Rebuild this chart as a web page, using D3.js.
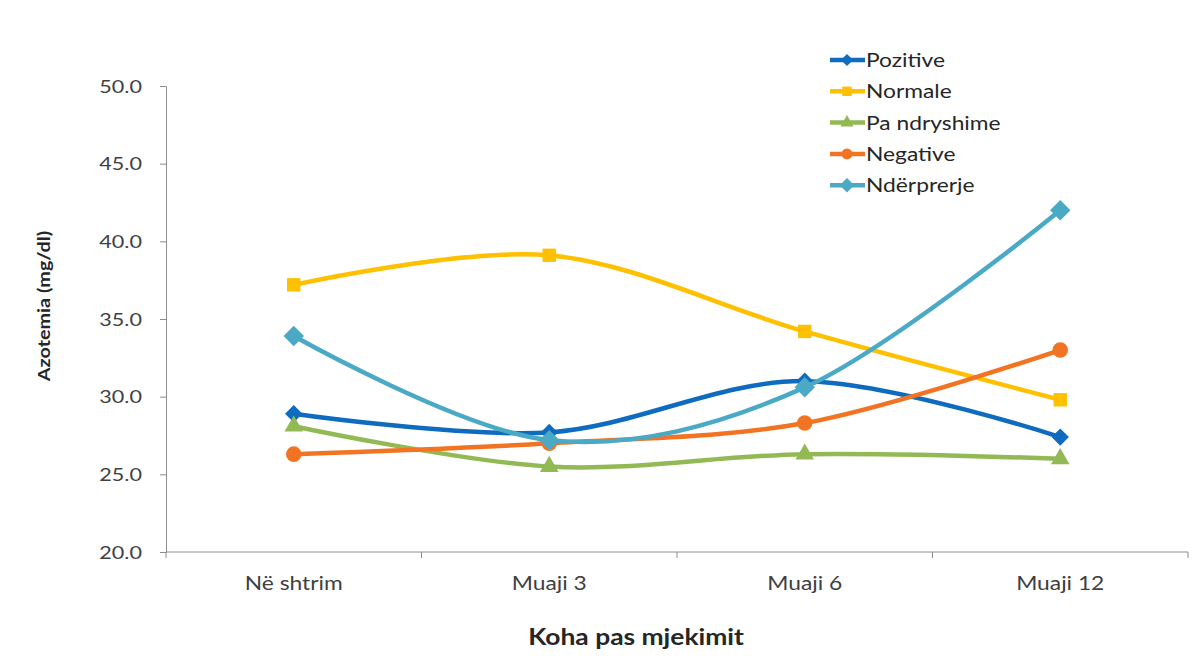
<!DOCTYPE html>
<html>
<head>
<meta charset="utf-8">
<script src="https://cdn.jsdelivr.net/npm/d3@7"></script>
<style>
  html, body { margin: 0; padding: 0; background: #fff; }
  svg { display: block; font-family: Lato, "Open Sans", sans-serif; }
</style>
</head>
<body>
<svg id="chart" width="1197" height="668"></svg>
<script>
// Time points after treatment
const categories = ["Në shtrim", "Muaji 3", "Muaji 6", "Muaji 12"];

// Mean azotemia (mg/dl) per group
const pozitive    = [28.9, 27.7, 31.0, 27.4];
const normale     = [37.2, 39.1, 34.2, 29.8];
const paNdryshime = [28.1, 25.5, 26.3, 26.0];
const negative    = [26.3, 27.0, 28.3, 33.0];
const nderprerje  = [33.9, 27.2, 30.6, 42.0];

const seriesNames = ["Pozitive", "Normale", "Pa ndryshime", "Negative", "Ndërprerje"];
const yTicks = [20, 25, 30, 35, 40, 45, 50];

const seriesValues = [pozitive, normale, paNdryshime, negative, nderprerje];
const colors  = ["#0E6BBE", "#FFC000", "#93B955", "#F27422", "#4AAAC5"];
// marker kinds: diamond drawn as a square turned 45 degrees
const markers = ["diamond", "square", "triangle", "circle", "diamond"];
const markerSizes = [150, 180, 150, 190, 210];

const series = seriesNames.map((name, i) => ({
  name, color: colors[i], marker: markers[i], size: markerSizes[i],
  values: seriesValues[i].map((v, j) => ({ cat: categories[j], v }))
}));

function markerPath(kind, size) {
  const t = kind === "circle" ? d3.symbolCircle
          : kind === "triangle" ? d3.symbolTriangle
          : d3.symbolSquare;
  return d3.symbol().type(t).size(size)();
}
const markerRot = kind => kind === "diamond" ? " rotate(45)" : "";

const svg = d3.select("#chart");
const margin = { left: 166, right: 9, top: 86, bottom: 116 };
const W = 1197, H = 668;
const SX = 1.2; // horizontal stretch of the lettering

const x = d3.scaleBand().domain(categories).range([margin.left, W - margin.right]);
const y = d3.scaleLinear().domain([20, 50]).range([H - margin.bottom, margin.top]);

const axisColor = "#8c8c8c";
const textColor = "#404040";

// Y axis (line + ticks from d3, labels placed alongside)
const yAxis = svg.append("g")
  .attr("transform", `translate(${margin.left},0)`)
  .call(d3.axisLeft(y).tickValues(yTicks).tickSize(6).tickFormat(""));
yAxis.select(".domain").attr("stroke", axisColor).attr("stroke-width", 1);
yAxis.selectAll(".tick line").attr("stroke", axisColor);

svg.append("g").selectAll("text").data(yTicks).join("text")
  .attr("transform", d => `translate(142,${y(d) + 6.5}) scale(${SX},1)`)
  .attr("text-anchor", "end")
  .attr("fill", textColor)
  .style("font-size", "18px")
  .text(d3.format(".1f"));

// X axis with tick marks between categories
const xAxisG = svg.append("g").attr("transform", `translate(0,${y(20)})`);
xAxisG.append("line")
  .attr("x1", margin.left).attr("x2", W - margin.right)
  .attr("stroke", axisColor).attr("stroke-width", 1);
const boundaries = categories.map(c => x(c)).concat([x(categories[categories.length - 1]) + x.bandwidth()]);
xAxisG.selectAll("line.tick").data(boundaries).join("line")
  .attr("class", "tick")
  .attr("x1", d => d).attr("x2", d => d)
  .attr("y1", 0).attr("y2", 6)
  .attr("stroke", axisColor);
xAxisG.selectAll("text").data(categories).join("text")
  .attr("transform", d => `translate(${x(d) + x.bandwidth() / 2},38) scale(${SX},1)`)
  .attr("text-anchor", "middle")
  .attr("fill", textColor)
  .style("font-size", "19px")
  .text(d => d);

// Axis titles
svg.append("text")
  .attr("transform", `translate(636,645) scale(${SX},1)`)
  .attr("text-anchor", "middle")
  .attr("fill", "#262626")
  .style("font-size", "22px").style("font-weight", "bold")
  .text("Koha pas mjekimit");

svg.append("text")
  .attr("transform", `translate(50,306) rotate(-90) scale(${SX},1)`)
  .attr("text-anchor", "middle")
  .attr("fill", "#262626")
  .style("font-size", "16.5px").style("font-weight", "bold")
  .text("Azotemia (mg/dl)");

// Smoothed lines
const line = d3.line()
  .x(d => x(d.cat) + x.bandwidth() / 2)
  .y(d => y(d.v))
  .curve(d3.curveCatmullRom.alpha(0));

const g = svg.append("g");
series.forEach(s => {
  g.append("path")
    .datum(s.values)
    .attr("d", line)
    .attr("fill", "none")
    .attr("stroke", s.color)
    .attr("stroke-width", 4.5)
    .attr("stroke-linejoin", "round")
    .attr("stroke-linecap", "round");
  g.selectAll(null).data(s.values).join("path")
    .attr("transform", d => `translate(${x(d.cat) + x.bandwidth() / 2},${y(d.v)})` + markerRot(s.marker))
    .attr("d", markerPath(s.marker, s.size))
    .attr("fill", s.color);
});

// Legend
const legend = svg.append("g");
series.forEach((s, i) => {
  const ly = 60 + i * 31.3;
  const row = legend.append("g").attr("transform", `translate(830,${ly})`);
  row.append("line").attr("x1", 0).attr("x2", 35).attr("y1", 0).attr("y2", 0)
    .attr("stroke", s.color).attr("stroke-width", 4.5);
  row.append("path").attr("transform", "translate(17,0)" + markerRot(s.marker))
    .attr("d", markerPath(s.marker, s.size * 0.5))
    .attr("fill", s.color);
  row.append("text")
    .attr("transform", `translate(36,7) scale(${SX},1)`)
    .attr("fill", "#262626")
    .style("font-size", "19px")
    .text(s.name);
});
</script>
</body>
</html>
